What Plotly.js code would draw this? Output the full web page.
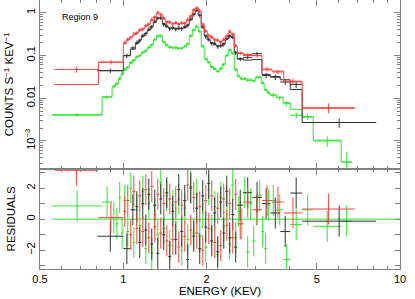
<!DOCTYPE html>
<html><head><meta charset="utf-8">
<script src="https://cdn.plot.ly/plotly-3.0.1.min.js"></script>
<style>html,body{margin:0;padding:0;background:#fff}#chart{width:415px;height:299px}</style>
</head><body><div id="chart"></div>
<script>
// ---------- data (energy bin edges in keV, rates in counts/s/keV, residuals in sigma) ----------
const redEdges = [0.564, 0.813, 1.000, 1.025, 1.051, 1.078, 1.105, 1.133, 1.161, 1.191, 1.221, 1.252,
  1.283, 1.316, 1.349, 1.383, 1.418, 1.454, 1.491, 1.528, 1.567, 1.606, 1.647, 1.689, 1.731, 1.775,
  1.820, 1.866, 1.913, 1.961, 2.011, 2.062, 2.114, 2.167, 2.222, 2.278, 2.336, 2.395, 2.455, 2.517,
  2.581, 2.713, 2.923, 3.17, 3.45, 3.80, 4.43, 6.86];
const redModel = [0.021, 0.069,
  0.19, 0.23, 0.27, 0.30, 0.34, 0.38, 0.42, 0.47, 0.55, 0.66, 0.80, 0.96, 0.92, 0.72, 0.62, 0.58, 0.56, 0.56, 0.55, 0.56,
  0.58, 0.66, 0.85, 1.12, 1.30, 1.05, 0.55, 0.36, 0.30, 0.26, 0.24, 0.22, 0.21, 0.23, 0.29, 0.35, 0.32, 0.16,
  0.115, 0.10, 0.10, 0.046, 0.043, 0.024, 0.0058];
const redRate = [0.047, 0.070,
  0.20, 0.24, 0.26, 0.32, 0.33, 0.40, 0.41, 0.50, 0.53, 0.70, 0.78, 1.02, 0.90, 0.75, 0.60, 0.61, 0.54, 0.59, 0.53, 0.58,
  0.56, 0.70, 0.82, 1.18, 1.27, 1.10, 0.52, 0.38, 0.29, 0.27, 0.23, 0.23, 0.20, 0.24, 0.28, 0.37, 0.31, 0.17,
  0.112, 0.105, 0.098, 0.048, 0.041, 0.025, 0.0060];
const redRelErr = [0.16, 0.12,
  0.10, 0.10, 0.10, 0.10, 0.10, 0.10, 0.10, 0.10, 0.10, 0.10, 0.10, 0.10, 0.10, 0.10, 0.10, 0.10, 0.10, 0.10, 0.10, 0.10,
  0.10, 0.10, 0.10, 0.10, 0.10, 0.10, 0.10, 0.10, 0.10, 0.10, 0.10, 0.10, 0.10, 0.10, 0.10, 0.10, 0.10, 0.10,
  0.09, 0.08, 0.08, 0.12, 0.12, 0.14, 0.26];
const redResid = [3.15, 0.1,
  0.5, 1.2, -1.0, 1.8, -0.6, 1.5, -0.8, 1.9, -1.2, 2.1, -0.5, 1.6, -0.9, 1.0, -1.4, 1.3, -1.3, 1.1, -1.8, 0.9,
  -1.1, 2.2, -0.7, 1.4, -0.9, 0.8, -2.0, 1.2, -0.6, 1.5, -1.5, 0.7, -1.7, 1.3, -0.4, 1.0, -1.2, 1.6,
  -0.3, 1.1, 0.6, 1.2, 1.1, 0.4, 0.65];

const blackEdges = [0.806, 1.000, 1.061, 1.105, 1.133, 1.161, 1.191, 1.221, 1.252, 1.283, 1.316, 1.349,
  1.383, 1.418, 1.454, 1.491, 1.528, 1.567, 1.606, 1.647, 1.689, 1.731, 1.775, 1.820, 1.866, 1.913,
  1.961, 2.011, 2.062, 2.114, 2.167, 2.222, 2.278, 2.336, 2.395, 2.455, 2.517, 2.581,
  2.713, 2.923, 3.17, 3.40, 3.69, 4.01, 4.43, 8.20];
const blackModel = [0.044, 0.10, 0.14,
  0.19, 0.23, 0.28, 0.33, 0.39, 0.48, 0.60, 0.76, 0.74, 0.56, 0.47, 0.44, 0.43, 0.43, 0.42, 0.43, 0.45,
  0.52, 0.68, 0.94, 1.12, 0.90, 0.45, 0.29, 0.23, 0.20, 0.18, 0.17, 0.165, 0.19, 0.24, 0.29, 0.26, 0.12,
  0.085, 0.078, 0.080, 0.036, 0.032, 0.027, 0.016, 0.0027];
const blackRate = [0.044, 0.098, 0.15,
  0.20, 0.22, 0.29, 0.32, 0.41, 0.46, 0.63, 0.74, 0.76, 0.53, 0.49, 0.42, 0.45, 0.41, 0.44, 0.42, 0.47,
  0.50, 0.71, 0.91, 1.16, 0.86, 0.47, 0.28, 0.24, 0.19, 0.19, 0.16, 0.17, 0.18, 0.25, 0.28, 0.27, 0.115,
  0.082, 0.09, 0.11, 0.034, 0.031, 0.024, 0.021, 0.0027];
const blackRelErr = [0.12, 0.12, 0.10,
  0.11, 0.11, 0.11, 0.11, 0.11, 0.11, 0.11, 0.11, 0.11, 0.11, 0.11, 0.11, 0.11, 0.11, 0.11, 0.11, 0.11,
  0.11, 0.11, 0.11, 0.11, 0.11, 0.11, 0.11, 0.11, 0.11, 0.11, 0.11, 0.11, 0.11, 0.11, 0.11, 0.11, 0.11,
  0.10, 0.09, 0.09, 0.14, 0.14, 0.15, 0.18, 0.25];
const blackResid = [-1.1, -1.9, 0.6,
  0.8, -1.5, 1.0, -0.7, 1.6, -1.6, 0.9, -2.2, 1.3, -1.0, 1.7, -2.4, 0.5, -1.3, 1.9, -0.8, 1.2,
  -2.6, 2.0, -1.1, 0.7, -1.9, 1.5, -0.5, 2.3, -1.4, 0.4, -2.1, 1.1, -0.9, 1.8, -1.2, 0.3, -1.8,
  0.9, 1.7, 1.4, 1.0, 0.4, -0.8, 1.68, -0.13];

const greenEdges = [0.553, 0.838, 0.911, 0.937, 0.960, 0.981, 1.000, 1.025, 1.051, 1.078, 1.105, 1.133,
  1.161, 1.191, 1.221, 1.252, 1.283, 1.316, 1.349, 1.383, 1.418, 1.454, 1.491, 1.528, 1.567, 1.606,
  1.647, 1.689, 1.731, 1.775, 1.820, 1.866, 1.913, 1.961, 2.011, 2.062, 2.114, 2.167, 2.222, 2.278,
  2.336, 2.395, 2.455, 2.517, 2.581, 2.646, 2.713, 2.781, 2.851, 2.923, 2.997, 3.073, 3.150, 3.230,
  3.311, 3.395, 3.571, 3.784, 4.011, 4.43, 4.857, 6.13, 6.72];
const greenModel = [0.004, 0.0108, 0.0185, 0.022, 0.028, 0.036,
  0.045, 0.054, 0.066, 0.078, 0.090, 0.100, 0.115, 0.132, 0.150, 0.180, 0.23, 0.29, 0.28, 0.21, 0.17,
  0.16, 0.15, 0.155, 0.145, 0.15, 0.16, 0.19, 0.28, 0.40, 0.47, 0.37, 0.16, 0.085, 0.068, 0.055,
  0.047, 0.044, 0.048, 0.063, 0.098, 0.138, 0.11, 0.048, 0.032, 0.029, 0.028, 0.027, 0.026, 0.026,
  0.030, 0.032, 0.022, 0.016, 0.013,
  0.012, 0.0105, 0.0078, 0.0055, 0.0036, 0.00104, 0.00032];
const greenRate = [0.0041, 0.0105, 0.0190, 0.0215, 0.029, 0.038,
  0.047, 0.052, 0.068, 0.076, 0.093, 0.098, 0.118, 0.128, 0.155, 0.175, 0.235, 0.285, 0.29, 0.205, 0.175,
  0.155, 0.152, 0.150, 0.148, 0.146, 0.165, 0.185, 0.29, 0.39, 0.48, 0.36, 0.165, 0.082, 0.07, 0.053,
  0.049, 0.042, 0.05, 0.061, 0.10, 0.135, 0.113, 0.046, 0.033, 0.028, 0.029, 0.026, 0.027, 0.025,
  0.031, 0.031, 0.023, 0.0155, 0.0135,
  0.0118, 0.0102, 0.0076, 0.0040, 0.0037, 0.00100, 0.00032];
const greenRelErr = [0.10, 0.10, 0.10, 0.10, 0.10, 0.10,
  0.08, 0.08, 0.08, 0.08, 0.08, 0.08, 0.08, 0.08, 0.08, 0.08, 0.08, 0.08, 0.08, 0.08, 0.08,
  0.08, 0.08, 0.08, 0.08, 0.08, 0.08, 0.08, 0.08, 0.08, 0.08, 0.08, 0.08, 0.08, 0.08, 0.08,
  0.08, 0.08, 0.08, 0.08, 0.08, 0.08, 0.08, 0.08, 0.08, 0.08, 0.08, 0.08, 0.08, 0.08,
  0.08, 0.08, 0.08, 0.08, 0.08,
  0.12, 0.12, 0.14, 0.16, 0.16, 0.28, 0.70];
const greenResid = [0.85, 1.1, 0.1, -0.3, 1.4, -0.9,
  1.2, -0.8, 2.0, -1.5, 0.6, -0.4, 1.8, -1.9, 1.0, -2.2, 0.3, -1.0, 2.4, -0.6, 1.5,
  -1.7, 0.9, -0.2, 1.3, -2.0, 0.7, -1.3, 2.1, -0.9, 1.6, -1.1, 0.4, -1.8, 1.9, -0.7,
  0.8, -2.3, 1.4, -0.5, 1.1, -1.6, 2.2, -1.2, 0.5, -0.3, 1.7, -2.1, 1.0, -1.4,
  0.6, 1.5, -0.8, -1.9, 0.9,
  1.2, 0.6, -2.6, -0.35, 0.6, -0.46, -0.13];

const xTickVals = [0.5, 1, 2, 5, 10];
const xTickText = ['0.5', '1', '2', '5', '10'];
const xMinorVals = [0.6, 0.7, 0.8, 0.9, 3, 4, 6, 7, 8, 9];
const yTickVals = [0.001, 0.01, 0.1, 1];
const yTickText = ['10<sup>−3</sup>', '0.01', '0.1', '1'];
const residTickVals = [-2, 0, 2];
const residTickText = ['−2', '0', '2'];
const residMinorVals = [-3, -1, 1, 3];
const panelLabel = 'Region 9';

// ---------- build traces ----------
const COL = {black: '#333333', red: '#ff4040', green: '#2ee62e'};
function bins(edges) {
  const lo = edges.slice(0, -1), hi = edges.slice(1);
  const c = lo.map((l, i) => Math.sqrt(l * hi[i]));
  return {c, plus: hi.map((h, i) => h - c[i]), minus: c.map((v, i) => v - lo[i])};
}
function series(edges, model, rate, rel, resid, color) {
  const b = bins(edges);
  const ex = {type: 'data', symmetric: false, array: b.plus, arrayminus: b.minus, width: 0, thickness: 1, color};
  return [
    {x: edges, y: model.concat([model[model.length - 1]]), xaxis: 'x2', yaxis: 'y', mode: 'lines',
     line: {shape: 'hv', color, width: 1}, hoverinfo: 'skip'},
    {x: b.c, y: rate, xaxis: 'x2', yaxis: 'y', mode: 'markers', marker: {size: 1, color},
     error_x: ex, error_y: {type: 'data', array: rate.map((r, i) => r * rel[i]), width: 0, thickness: 1, color}},
    {x: b.c, y: resid, xaxis: 'x', yaxis: 'y2', mode: 'markers', marker: {size: 1, color},
     error_x: ex, error_y: {type: 'constant', value: 1, width: 0, thickness: 1, color}}
  ];
}
const zeroLine = {x: [greenEdges[0], 10], y: [0, 0], xaxis: 'x', yaxis: 'y2', mode: 'lines',
  line: {color: COL.green, width: 1}, hoverinfo: 'skip'};

const data = [zeroLine]
  .concat(series(greenEdges, greenModel, greenRate, greenRelErr, greenResid, COL.green))
  .concat(series(blackEdges, blackModel, blackRate, blackRelErr, blackResid, COL.black))
  .concat(series(redEdges, redModel, redRate, redRelErr, redResid, COL.red));

const yMinor = [];
for (let p = -4; p <= 0; p++) for (let d = 2; d <= 9; d++) yMinor.push(d * Math.pow(10, p));

const FONT = 'Liberation Sans, Arial, Helvetica, sans-serif';
const AX = {color: '#000', linecolor: '#808080', linewidth: 1, mirror: 'ticks', ticks: 'inside',
  tickcolor: '#808080', showgrid: false, zeroline: false, tickfont: {family: FONT, size: 11, color: '#000'}};
const xRange = [Math.log10(0.5), 1];

const layout = {
  width: 415, height: 299,
  margin: {l: 40, r: 15, t: 0, b: 30},
  paper_bgcolor: '#fff', plot_bgcolor: '#fff',
  showlegend: false,
  font: {family: FONT, color: '#000'},
  xaxis: Object.assign({}, AX, {type: 'log', range: xRange, anchor: 'y2', tickmode: 'array',
    tickvals: xTickVals, ticktext: xTickText, ticklen: 6,
    minor: {tickmode: 'array', tickvals: xMinorVals, ticks: 'inside', ticklen: 3, tickcolor: '#808080'},
    title: {text: 'ENERGY (KEV)', font: {family: FONT, size: 11.5}, standoff: 2}}),
  xaxis2: Object.assign({}, AX, {type: 'log', range: xRange, anchor: 'y', matches: 'x', tickmode: 'array',
    tickvals: xTickVals, showticklabels: false, ticklen: 6,
    minor: {tickmode: 'array', tickvals: xMinorVals, ticks: 'inside', ticklen: 3, tickcolor: '#808080'}}),
  yaxis: Object.assign({}, AX, {type: 'log', domain: [0.373, 1], range: [-3.649, 0.297], anchor: 'x2',
    tickmode: 'array', tickvals: yTickVals, ticktext: yTickText, tickangle: -90, ticklen: 6,
    minor: {tickmode: 'array', tickvals: yMinor, ticks: 'inside', ticklen: 3, tickcolor: '#808080'},
    title: {text: 'COUNTS S<sup>−1</sup> KEV<sup>−1</sup>', font: {family: FONT, size: 11.5}, standoff: 6}}),
  yaxis2: Object.assign({}, AX, {domain: [0, 0.373], range: [-3.21, 3.25], anchor: 'x',
    tickmode: 'array', tickvals: residTickVals, ticktext: residTickText, tickangle: -90, ticklen: 5,
    minor: {tickmode: 'array', tickvals: residMinorVals, ticks: 'inside', ticklen: 5, tickcolor: '#808080'},
    title: {text: 'RESIDUALS', font: {family: FONT, size: 11.5}, standoff: 6}}),
  annotations: [{text: panelLabel, xref: 'paper', yref: 'paper', x: 0.111, y: 0.937,
    xanchor: 'center', yanchor: 'middle', showarrow: false, font: {family: FONT, size: 9, color: '#000'}}]
};

Plotly.newPlot('chart', data, layout, {staticPlot: true, displayModeBar: false});
</script>
</body></html>
